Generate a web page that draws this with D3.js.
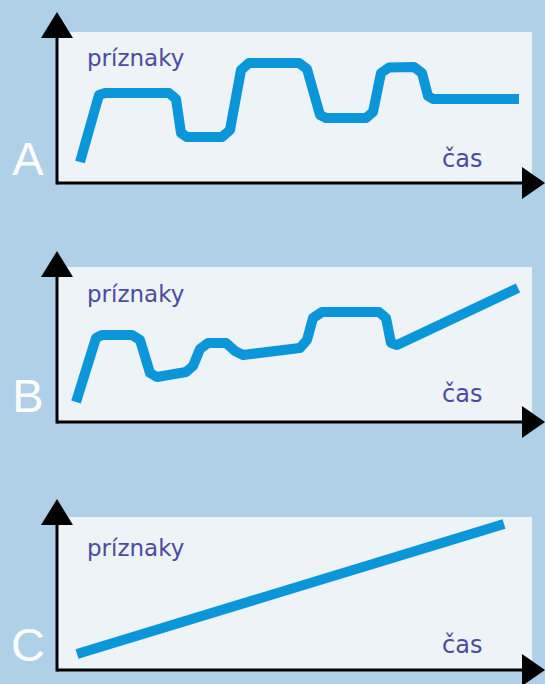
<!DOCTYPE html>
<html>
<head>
<meta charset="utf-8">
<script src="https://cdn.jsdelivr.net/npm/d3@7"></script>
<style>
  html, body { margin: 0; padding: 0; background: #b0d0e8; }
  svg { display: block; }
</style>
</head>
<body>
<div id="chart"></div>
<script>
// labels
let panelNames = ['A', 'B', 'C'];
let yTitle = 'príznaky';
let xTitle = 'čas';

// [time, symptoms], one series per panel
let seriesA = [
    [4.6, 4.2], [8.4, 17.6], [9.6, 18], [22.4, 18], [23.8, 16.8], [24.8, 10],
    [26, 9.2], [33, 9.2], [34.6, 10.6], [36.8, 22.6], [38.4, 24], [48.4, 24],
    [50, 22.8], [52.6, 13.6], [53.8, 13], [61.8, 13], [63.2, 14.2], [64.8, 22],
    [66.4, 23.1], [71.4, 23.2], [73, 22], [74.2, 17.4], [75.2, 16.8], [92.4, 16.8]
];
let seriesB = [
    [3.8, 4], [7.8, 16.8], [9, 17.4], [15, 17.4], [16.6, 16.4], [18.6, 9.8],
    [20, 9], [25.8, 10], [27.2, 11.2], [28.6, 14.6], [30.2, 15.8], [33.8, 15.8],
    [35.6, 14.2], [37.2, 13.4], [48.6, 14.8], [50, 16.4], [51.2, 20.8], [53, 22],
    [64.4, 22], [65.8, 20.8], [66.8, 15.8], [68, 15.4], [92.2, 26.8]
];
let seriesC = [
    [4, 3.2], [89.4, 29.2]
];
let allSeries = [seriesA, seriesB, seriesC];

let width = 545, height = 684;

// where each panel sits on the page
let layout = [
    {top: 32, axis: 183, yTitle: 66, xTitle: 167, name: 175},
    {top: 267, axis: 422, yTitle: 302, xTitle: 402, name: 412},
    {top: 517, axis: 670, yTitle: 556, xTitle: 653, name: 661}
];

let svg = d3.select('#chart').append('svg')
    .attr('width', width)
    .attr('height', height);

svg.append('rect')
    .attr('width', width)
    .attr('height', height)
    .attr('fill', '#b0d0e8');

let x = d3.scaleLinear()
    .domain([0, 95])
    .range([57, 532]);

layout.forEach(function(p, i) {
    drawPanel(p, allSeries[i], panelNames[i]);
});

function drawPanel(p, data, name) {
    let y = d3.scaleLinear()
        .domain([0, 30])
        .range([p.axis, p.axis - 150]);

    let g = svg.append('g').attr('class', 'panel');
    let x0 = x.range()[0], x1 = x.range()[1];

    g.append('rect')
        .attr('x', x0)
        .attr('y', p.top)
        .attr('width', x1 - x0)
        .attr('height', p.axis - p.top)
        .attr('fill', '#eef3f7');

    g.append('text')
        .attr('x', 87)
        .attr('y', p.yTitle)
        .attr('fill', '#4b4ba0')
        .style('font-family', 'DejaVu Sans, sans-serif')
        .style('font-size', '23px')
        .text(yTitle);

    g.append('text')
        .attr('x', 442)
        .attr('y', p.xTitle)
        .attr('fill', '#4b4ba0')
        .style('font-family', 'DejaVu Sans, sans-serif')
        .style('font-size', '24px')
        .text(xTitle);

    g.append('text')
        .attr('x', 28)
        .attr('y', p.name)
        .attr('text-anchor', 'middle')
        .attr('fill', '#ffffff')
        .style('font-family', 'Liberation Sans, Arial, sans-serif')
        .style('font-size', '47px')
        .text(name);

    let line = d3.line()
        .x(function(d) { return x(d[0]); })
        .y(function(d) { return y(d[1]); });

    g.append('path')
        .datum(data)
        .attr('d', line)
        .attr('fill', 'none')
        .attr('stroke', '#0a96d9')
        .attr('stroke-width', 10)
        .attr('stroke-linejoin', 'round')
        .attr('stroke-linecap', 'butt');

    // axes with arrow heads
    let tipY = p.axis - 171;
    let tipX = 545;
    g.append('line')
        .attr('x1', x0).attr('y1', p.axis)
        .attr('x2', tipX - 20).attr('y2', p.axis)
        .attr('stroke', '#000').attr('stroke-width', 3);
    g.append('line')
        .attr('x1', x0).attr('y1', p.axis + 1.5)
        .attr('x2', x0).attr('y2', tipY + 20)
        .attr('stroke', '#000').attr('stroke-width', 3);

    g.append('path')
        .attr('d', 'M' + x0 + ',' + tipY + 'L' + (x0 + 16) + ',' + (tipY + 26) +
            'L' + (x0 - 16) + ',' + (tipY + 26) + 'Z')
        .attr('fill', '#000');
    g.append('path')
        .attr('d', 'M' + tipX + ',' + p.axis + 'L' + (tipX - 23) + ',' + (p.axis - 16) +
            'L' + (tipX - 23) + ',' + (p.axis + 16) + 'Z')
        .attr('fill', '#000');
}
</script>
</body>
</html>
